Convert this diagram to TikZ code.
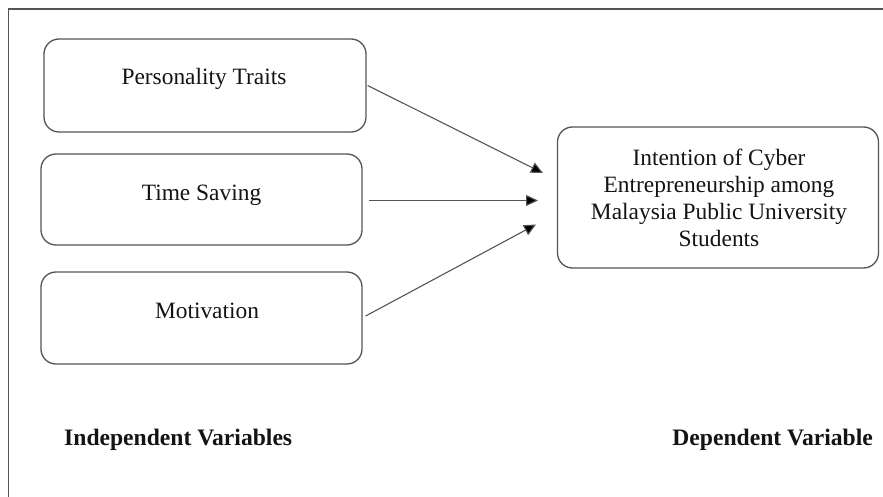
\documentclass[tikz,border=0pt]{standalone}
\usepackage{fontspec}
\setmainfont{Liberation Serif}
\usetikzlibrary{arrows.meta}
\definecolor{edge}{RGB}{85,85,85}
\definecolor{ink}{RGB}{20,20,20}
\begin{document}
\begin{tikzpicture}[x=1pt,y=-1pt,
  varbox/.style={draw=edge, line width=1.3pt, rounded corners=15pt, inner sep=0pt},
  boxtext/.style={text=ink, font=\fontsize{23.4}{27}\selectfont, align=center, inner sep=0pt},
  heading/.style={text=ink, font=\fontsize{23.6}{27}\selectfont\bfseries, inner sep=0pt},
  link/.style={draw=edge, line width=1.1pt, -{Triangle[length=12pt,width=11pt,fill=black]}}]
  \useasboundingbox (0,0) rectangle (883,497);
  \fill[white] (0,0) rectangle (883,497);
  % outer frame (only the left and top edges fall inside the page)
  \draw[edge, line width=1.2pt] (8.5,497) -- (8.5,9) -- (883,9);

  % independent variables
  \node[varbox, minimum width=322pt, minimum height=93pt] (pt) at (205,85.5) {};
  \node[boxtext] (ptt) at (204,79) {Personality Traits};
  \node[varbox, minimum width=321pt, minimum height=91pt] (ts) at (201.5,199.5) {};
  \node[boxtext] (tst) at (201.5,195) {Time Saving};
  \node[varbox, minimum width=321pt, minimum height=92pt] (mo) at (201.5,318) {};
  \node[boxtext] (mot) at (207,311) {Motivation};

  % dependent variable
  \node[varbox, minimum width=321pt, minimum height=141pt] (ic) at (718,197.5) {};
  \node[boxtext] (ict) at (719,197.5) {Intention of Cyber\\Entrepreneurship among\\Malaysia Public University\\Students};

  % arrow tips stop short of the dependent box
  \coordinate (e1) at (543,173);
  \coordinate (e2) at (538,200.5);
  \coordinate (e3) at (536,224.5);
  \draw[link] (pt.east) ++(1,0) coordinate (s1) -- (e1);
  \draw[link] (369,200.5) coordinate (s2) -- (e2);
  \draw[link] (mo.east) ++(3,-2) coordinate (s3) -- (e3);

  % column headings
  \node[heading, anchor=west] (iv) at (64,440) {Independent Variables};
  \node[heading, anchor=east] (dv) at (873,440) {Dependent Variable};
\end{tikzpicture}
\end{document}
